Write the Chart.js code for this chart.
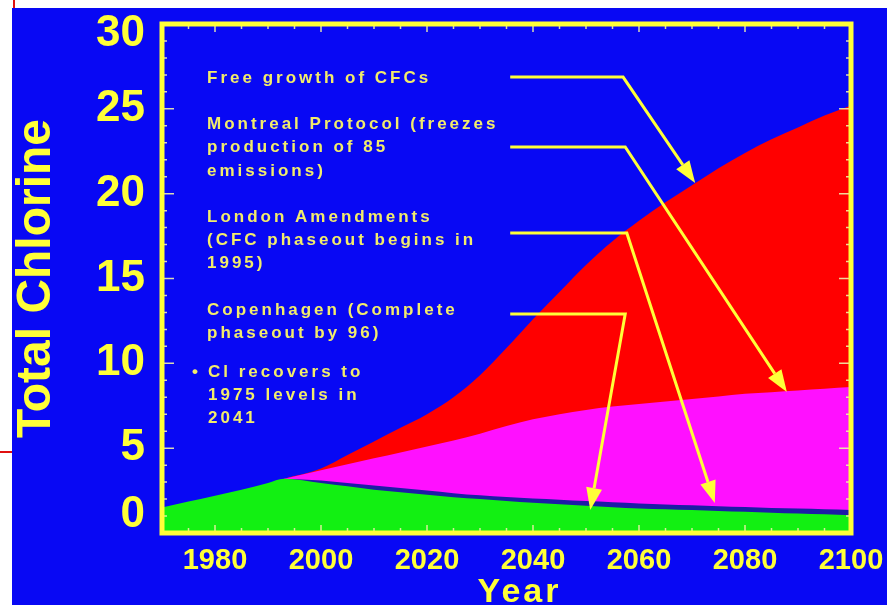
<!DOCTYPE html>
<html>
<head>
<meta charset="utf-8">
<script src="https://cdn.jsdelivr.net/npm/chart.js@4.4.1/dist/chart.umd.min.js"></script>
<style>
  html, body { margin: 0; padding: 0; background: #fff; }
  body { width: 887px; height: 605px; position: relative; overflow: hidden; }
  #chart { position: absolute; left: 12px; top: 8px; background: #0808f4; }
  .cut-v { position: absolute; left: 13px; top: 0; width: 2px; height: 8px; background: #e01010; }
  .cut-h { position: absolute; left: 0; top: 451px; width: 12px; height: 2px; background: #e01010; }
</style>
</head>
<body>
<div class="cut-v"></div>
<div class="cut-h"></div>
<canvas id="chart" width="875" height="597"></canvas>
<script>
// total chlorine scenarios
const years = [1970, 1975, 1980, 1985, 1990, 1993,
  2000, 2005, 2010, 2015, 2020, 2025, 2030, 2035, 2040, 2045, 2050,
  2055, 2060, 2065, 2070, 2075, 2080, 2085, 2090, 2095, 2100];
const copenhagen = [1.5, 1.85, 2.2, 2.55, 2.95, 3.2,
  2.95, 2.75, 2.55, 2.4, 2.25, 2.1, 2.0, 1.88, 1.78, 1.7, 1.6,
  1.52, 1.45, 1.4, 1.35, 1.3, 1.25, 1.2, 1.15, 1.1, 1.05];
const london = [null, null, null, null, null, 3.2,
  3.1, 2.95, 2.8, 2.65, 2.5, 2.35, 2.22, 2.12, 2.03, 1.96, 1.88,
  1.81, 1.74, 1.68, 1.63, 1.58, 1.53, 1.48, 1.44, 1.4, 1.36];
const montreal = [null, null, null, null, null, 3.2,
  3.7, 4.05, 4.4, 4.75, 5.1, 5.45, 5.85, 6.3, 6.7, 7.0, 7.25,
  7.45, 7.6, 7.75, 7.9, 8.05, 8.2, 8.3, 8.4, 8.5, 8.6];
const freeGrowth = [null, null, null, null, null, 3.2,
  3.8, 4.6, 5.4, 6.2, 7.0, 8.0, 9.3, 10.9, 12.6, 14.2, 15.8,
  17.2, 18.4, 19.5, 20.5, 21.5, 22.4, 23.2, 23.9, 24.6, 25.2];

const xTicks = [1980, 2000, 2020, 2040, 2060, 2080, 2100];
const yTicks = [0, 5, 10, 15, 20, 25, 30];

// slide notes and the arrows that point from them (arrow points in year / value)
const notes = [
  ['Free growth of CFCs', 195, 75],
  ['Montreal Protocol (freezes', 195, 121],
  ['production of 85', 195, 144],
  ['emissions)', 195, 168],
  ['London Amendments', 195, 214],
  ['(CFC phaseout begins in', 195, 237],
  ['1995)', 195, 260],
  ['Copenhagen (Complete', 195, 307],
  ['phaseout by 96)', 195, 330],
  ['Cl recovers to', 196, 369],
  ['1975 levels in', 196, 392],
  ['2041', 196, 415],
];
const arrows = [
  [[2035.7, 26.87], [2057.0, 26.87], [2070.6, 20.63]],
  [[2035.7, 22.75], [2057.4, 22.75], [2087.9, 8.31]],
  [[2035.7, 17.68], [2057.7, 17.68], [2074.3, 1.77]],
  [[2035.7, 12.91], [2057.4, 12.91], [2050.8, 1.36]],
];

const YELLOW = '#ffff38';
const NOTE = '#f2ec6a';
const FONT = "'Liberation Sans', Arial, Helvetica, sans-serif";

function series(label, values, color) {
  return {
    label,
    data: years.map((x, i) => ({ x, y: values[i] })),
    backgroundColor: color,
    borderColor: 'transparent',
    borderWidth: 0,
    fill: 'origin',
    pointRadius: 0,
    cubicInterpolationMode: 'monotone',
  };
}

function drawArrow(ctx, x, y, pts) {
  const p = pts.map(([a, b]) => [x.getPixelForValue(a), y.getPixelForValue(b)]);
  const [tx, ty] = p[p.length - 1];
  const [sx, sy] = p[p.length - 2];
  const ang = Math.atan2(ty - sy, tx - sx);
  const len = 22, half = 8;
  const bx = tx - len * Math.cos(ang), by = ty - len * Math.sin(ang);
  ctx.beginPath();
  ctx.moveTo(p[0][0], p[0][1]);
  for (let i = 1; i < p.length - 1; i++) ctx.lineTo(p[i][0], p[i][1]);
  ctx.lineTo(bx, by);
  ctx.stroke();
  ctx.beginPath();
  ctx.moveTo(tx, ty);
  ctx.lineTo(bx + half * Math.sin(ang), by - half * Math.cos(ang));
  ctx.lineTo(bx - half * Math.sin(ang), by + half * Math.cos(ang));
  ctx.closePath();
  ctx.fill();
}

const frame = {
  id: 'frame',
  afterDatasetsDraw(chart) {
    const { ctx, chartArea: a, scales: { x, y } } = chart;
    ctx.save();

    // little inward tick marks on all four sides
    ctx.strokeStyle = 'rgba(240,240,170,0.9)';
    ctx.lineWidth = 1.5;
    ctx.beginPath();
    for (let yr = 1970; yr <= 2100; yr += 5) {
      const px = x.getPixelForValue(yr);
      const len = xTicks.includes(yr) ? 8 : 5;
      ctx.moveTo(px, a.bottom); ctx.lineTo(px, a.bottom - len);
      ctx.moveTo(px, a.top); ctx.lineTo(px, a.top + len);
    }
    for (let v = 0; v <= 30; v++) {
      const py = y.getPixelForValue(v);
      const len = v % 5 === 0 ? 12 : 5;
      ctx.moveTo(a.left, py); ctx.lineTo(a.left + len, py);
      ctx.moveTo(a.right, py); ctx.lineTo(a.right - len, py);
    }
    ctx.stroke();

    ctx.strokeStyle = YELLOW;
    ctx.lineWidth = 5;
    ctx.strokeRect(a.left, a.top, a.width, a.height);

    // y tick labels (end ones tucked inside the frame like the slide)
    ctx.fillStyle = YELLOW;
    ctx.font = 'bold 44px ' + FONT;
    ctx.textAlign = 'right';
    ctx.textBaseline = 'middle';
    yTicks.forEach(v => {
      const py = Math.min(Math.max(y.getPixelForValue(v), a.top + 10), a.bottom - 18);
      ctx.fillText(String(v), a.left - 17, py);
    });

    // x axis title, sitting a little right of centre
    ctx.textAlign = 'center';
    ctx.textBaseline = 'alphabetic';
    ctx.font = 'bold 34px ' + FONT;
    ctx.letterSpacing = '3px';
    ctx.fillText('Year', (a.left + a.right) / 2 + 13, a.bottom + 69);

    // notes
    ctx.fillStyle = NOTE;
    ctx.font = 'bold 17px ' + FONT;
    ctx.textAlign = 'left';
    ctx.letterSpacing = '3px';
    notes.forEach(([t, nx, ny]) => ctx.fillText(t, nx, ny));
    ctx.letterSpacing = '0px';
    ctx.fillText('\u2022', 180, 369);

    ctx.strokeStyle = YELLOW;
    ctx.fillStyle = YELLOW;
    ctx.lineWidth = 3;
    ctx.lineJoin = 'miter';
    arrows.forEach(pts => drawArrow(ctx, x, y, pts));

    ctx.restore();
  }
};

new Chart(document.getElementById('chart'), {
  type: 'line',
  data: {
    datasets: [
      series('Copenhagen', copenhagen, '#12f012'),
      series('London', london, '#1c1ca6'),
      series('Montreal', montreal, '#ff10ff'),
      series('Free growth of CFCs', freeGrowth, '#ff0000'),
    ]
  },
  options: {
    responsive: false,
    animation: false,
    layout: { padding: { top: 16, right: 36, left: 0, bottom: 0 } },
    plugins: { legend: { display: false }, tooltip: { enabled: false } },
    scales: {
      x: {
        type: 'linear',
        min: 1970,
        max: 2100,
        afterBuildTicks: s => { s.ticks = xTicks.map(v => ({ value: v })); },
        afterFit: s => { s.height = 72; },
        grid: { display: false },
        border: { display: false },
        ticks: {
          color: YELLOW,
          padding: 3,
          maxRotation: 0,
          font: { family: FONT, size: 29, weight: 'bold' },
          callback: v => String(v),
        },
      },
      y: {
        min: 0,
        max: 30,
        afterFit: s => { s.width = 150; },
        grid: { display: false },
        border: { display: false },
        ticks: { display: false },
        title: {
          display: true,
          text: 'Total Chlorine',
          color: YELLOW,
          padding: { top: 1, bottom: 0 },
          font: { family: FONT, size: 48, weight: 'bold', lineHeight: 1 },
        },
      },
    },
  },
  plugins: [frame],
});
</script>
</body>
</html>
